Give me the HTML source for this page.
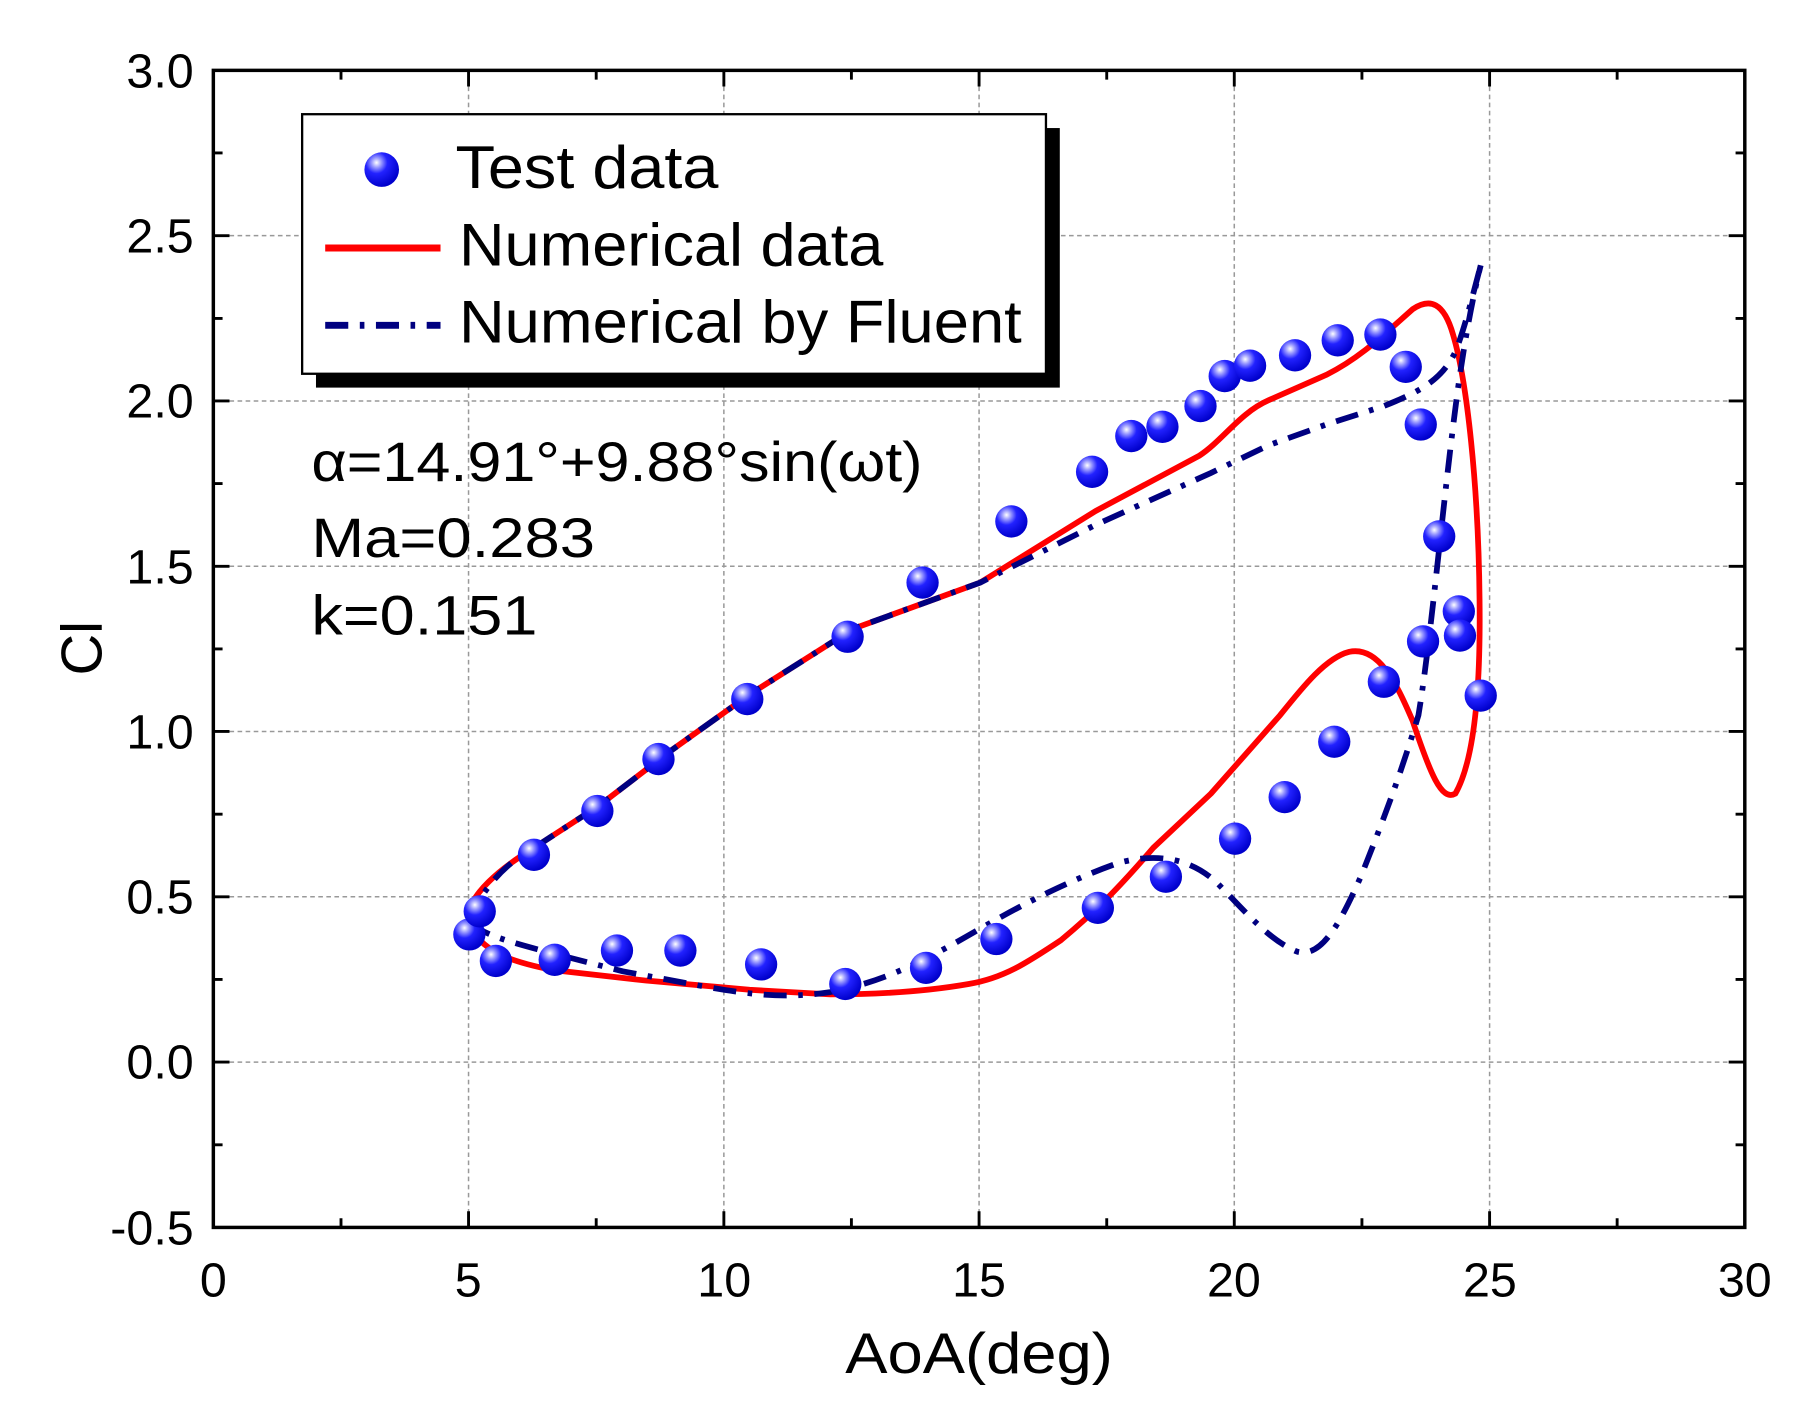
<!DOCTYPE html>
<html><head><meta charset="utf-8"><style>html,body{margin:0;padding:0;background:#fff}svg{display:block}</style></head>
<body>
<svg width="1799" height="1412" viewBox="0 0 1560 1224" preserveAspectRatio="none" xmlns="http://www.w3.org/2000/svg" font-family="Liberation Sans, Arial, sans-serif">
<defs>
<radialGradient id="g" cx="0.35" cy="0.3" r="0.7">
<stop offset="0" stop-color="#ffffff"/><stop offset="0.2" stop-color="#9999ff"/><stop offset="0.45" stop-color="#2222ff"/><stop offset="1" stop-color="#0000cc"/>
</radialGradient>
</defs>
<rect width="1560" height="1224" fill="#fff"/>
<g stroke="#999" stroke-width="1.3" stroke-dasharray="4,3">
<line x1="406.3" y1="61" x2="406.3" y2="1064"/><line x1="627.7" y1="61" x2="627.7" y2="1064"/><line x1="849" y1="61" x2="849" y2="1064"/><line x1="1070.3" y1="61" x2="1070.3" y2="1064"/><line x1="1291.7" y1="61" x2="1291.7" y2="1064"/>
<line x1="185" y1="204.3" x2="1513" y2="204.3"/><line x1="185" y1="347.6" x2="1513" y2="347.6"/><line x1="185" y1="490.9" x2="1513" y2="490.9"/><line x1="185" y1="634.1" x2="1513" y2="634.1"/><line x1="185" y1="777.4" x2="1513" y2="777.4"/><line x1="185" y1="920.7" x2="1513" y2="920.7"/>
</g>
<rect x="185" y="61" width="1328" height="1003" fill="none" stroke="#000" stroke-width="3"/>
<g stroke="#000" stroke-width="2.5">
<path d="M406.3 1064v-14M627.7 1064v-14M849 1064v-14M1070.3 1064v-14M1291.7 1064v-14M406.3 61v14M627.7 61v14M849 61v14M1070.3 61v14M1291.7 61v14"/>
<path d="M295.7 1064v-8M517 1064v-8M738.3 1064v-8M959.7 1064v-8M1181 1064v-8M1402.3 1064v-8M295.7 61v8M517 61v8M738.3 61v8M959.7 61v8M1181 61v8M1402.3 61v8"/>
<path d="M185 204.3h14M185 347.6h14M185 490.9h14M185 634.1h14M185 777.4h14M185 920.7h14M1513 204.3h-14M1513 347.6h-14M1513 490.9h-14M1513 634.1h-14M1513 777.4h-14M1513 920.7h-14"/>
<path d="M185 132.6h8M185 276h8M185 419.2h8M185 562.5h8M185 705.8h8M185 849h8M185 992.4h8M1513 132.6h-8M1513 276h-8M1513 419.2h-8M1513 562.5h-8M1513 705.8h-8M1513 849h-8M1513 992.4h-8"/>
</g>
<g font-size="42" fill="#000" text-anchor="middle">
<text x="185" y="1124">0</text><text x="406" y="1124">5</text><text x="628" y="1124">10</text><text x="849" y="1124">15</text><text x="1070" y="1124">20</text><text x="1292" y="1124">25</text><text x="1513" y="1124">30</text>
</g>
<g font-size="42" fill="#000" text-anchor="end">
<text x="168" y="76">3.0</text><text x="168" y="219">2.5</text><text x="168" y="362">2.0</text><text x="168" y="506">1.5</text><text x="168" y="649">1.0</text><text x="168" y="792">0.5</text><text x="168" y="935">0.0</text><text x="168" y="1079">-0.5</text>
</g>
<text x="849" y="1190" font-size="50" text-anchor="middle" textLength="232" lengthAdjust="spacingAndGlyphs">AoA(deg)</text>
<text transform="translate(88,562) rotate(-90)" font-size="50" text-anchor="middle">Cl</text>
<rect x="274" y="111" width="645" height="225" fill="#000"/>
<rect x="262" y="99" width="645" height="225" fill="#fff" stroke="#000" stroke-width="2"/>
<circle cx="331" cy="147" r="15" fill="url(#g)"/>
<line x1="282" y1="215" x2="382" y2="215" stroke="#f00" stroke-width="6"/>
<line x1="282" y1="282" x2="382" y2="282" stroke="#000080" stroke-width="6" stroke-dasharray="20,10,4,10"/>
<g font-size="52" fill="#000">
<text x="395" y="163" textLength="228" lengthAdjust="spacingAndGlyphs">Test data</text>
<text x="398" y="230" textLength="368" lengthAdjust="spacingAndGlyphs">Numerical data</text>
<text x="398" y="297" textLength="488" lengthAdjust="spacingAndGlyphs">Numerical by Fluent</text>
</g>
<g font-size="48" fill="#000">
<text x="270" y="417" textLength="530" lengthAdjust="spacingAndGlyphs">α=14.91°+9.88°sin(ωt)</text>
<text x="270" y="483" textLength="246" lengthAdjust="spacingAndGlyphs">Ma=0.283</text>
<text x="270" y="550" textLength="196" lengthAdjust="spacingAndGlyphs">k=0.151</text>
</g>
<path fill="none" stroke="#f00" stroke-width="5" stroke-linejoin="round" d="M407 790 C410 775 430 755 463 735 L520 698 L580 652 L650 602 L740 545 L850 505 L950 443 L1040 395 C1060 382 1075 358 1100 347 L1150 325 C1180 310 1200 290 1225 268 C1240 258 1252 262 1260 290 C1272 330 1282 420 1283 520 C1284 600 1278 660 1262 688 C1250 695 1240 670 1225 625 C1210 590 1195 560 1170 565 C1150 570 1130 595 1110 620 L1050 688 L1000 735 C970 770 950 790 920 815 C890 835 870 848 840 853 C800 860 760 862 720 862 L650 858 L560 850 L480 841 C450 835 425 828 412 810 C407 800 406 795 407 790 Z"/>
<path fill="none" stroke="#000080" stroke-width="5" stroke-dasharray="20,10,4,10" d="M407 800 C415 775 435 750 463 735 L520 698 L580 652 L650 602 L740 545 L850 505 L950 455 L1050 410 L1100 386 L1150 368 L1200 352 C1230 340 1250 330 1262 305 C1270 285 1276 260 1284 230"/>
<path fill="none" stroke="#000080" stroke-width="5" stroke-dasharray="20,10,4,10" d="M407 800 C420 810 440 816 470 824 L540 842 L610 855 C650 862 680 866 720 860 C760 852 790 840 850 805 C890 782 930 762 970 748 C1000 740 1030 742 1055 765 C1080 790 1100 815 1125 825 C1145 830 1160 805 1180 760 C1200 710 1215 670 1230 620 C1240 560 1250 450 1260 370 C1266 320 1274 270 1284 230"/>
<g fill="url(#g)">
<circle cx="407" cy="810" r="14"/><circle cx="416" cy="790" r="14"/><circle cx="430" cy="833" r="14"/><circle cx="463" cy="741" r="14"/><circle cx="481" cy="832" r="14"/><circle cx="518" cy="703" r="14"/><circle cx="535" cy="824" r="14"/><circle cx="571" cy="658" r="14"/><circle cx="590" cy="824" r="14"/><circle cx="648" cy="606" r="14"/><circle cx="660" cy="836" r="14"/><circle cx="735" cy="552" r="14"/><circle cx="733" cy="853" r="14"/><circle cx="800" cy="505" r="14"/><circle cx="803" cy="839" r="14"/><circle cx="864" cy="814" r="14"/><circle cx="877" cy="452" r="14"/><circle cx="947" cy="409" r="14"/><circle cx="952" cy="787" r="14"/><circle cx="981" cy="378" r="14"/><circle cx="1008" cy="370" r="14"/><circle cx="1011" cy="760" r="14"/><circle cx="1041" cy="352" r="14"/><circle cx="1062" cy="326" r="14"/><circle cx="1071" cy="727" r="14"/><circle cx="1084" cy="317" r="14"/><circle cx="1114" cy="691" r="14"/><circle cx="1123" cy="308" r="14"/><circle cx="1157" cy="643" r="14"/><circle cx="1160" cy="295" r="14"/><circle cx="1197" cy="290" r="14"/><circle cx="1200" cy="591" r="14"/><circle cx="1219" cy="318" r="14"/><circle cx="1232" cy="368" r="14"/><circle cx="1234" cy="556" r="14"/><circle cx="1248" cy="465" r="14"/><circle cx="1265" cy="530" r="14"/><circle cx="1266" cy="551" r="14"/><circle cx="1284" cy="603" r="14"/>
</g>
</svg>
</body></html>
